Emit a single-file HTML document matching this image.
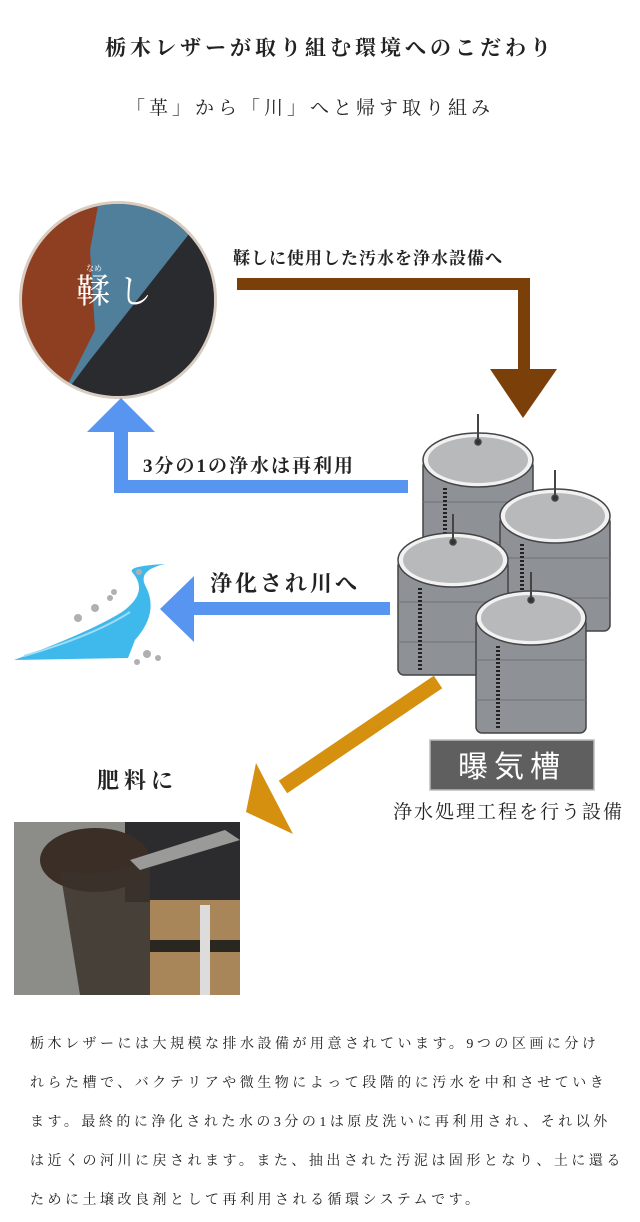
<!DOCTYPE html>
<html><head><meta charset="utf-8"><style>
body{margin:0;background:#fff;width:640px;height:1222px;overflow:hidden;font-family:"Liberation Serif","Noto Serif CJK SC",serif;color:#222}
.p{position:absolute;left:30px;font-size:14px;letter-spacing:3.5px;white-space:nowrap;line-height:20px}
</style></head><body>
<svg width="640" height="1222" style="position:absolute;left:0;top:0" font-family="Liberation Serif, Noto Serif CJK SC, serif">
<defs>
<clipPath id="c"><circle cx="118" cy="300" r="96"/></clipPath>
<g id="t" stroke="#444" stroke-width="1.5">
<rect x="0" y="28" width="110" height="115" rx="6" fill="#8e9196"/>
<line x1="0" y1="70" x2="110" y2="70" stroke="#6f7276" stroke-width="1"/>
<line x1="0" y1="110" x2="110" y2="110" stroke="#6f7276" stroke-width="1"/>
<ellipse cx="55" cy="28" rx="55" ry="27" fill="#f2f2f2"/>
<ellipse cx="55" cy="28" rx="50" ry="23" fill="#b8b9bb" stroke="none"/>
<line x1="55" y1="-18" x2="55" y2="10" stroke-width="2"/>
<circle cx="55" cy="10" r="3" fill="#333"/>
<line x1="22" y1="56" x2="22" y2="140" stroke="#222" stroke-width="4" stroke-dasharray="2 2"/>
</g>
</defs>
<text x="330" y="55" font-size="21" font-weight="bold" text-anchor="middle" letter-spacing="4" fill="#222">栃木レザーが取り組む環境へのこだわり</text>
<text x="310" y="114" font-size="19" text-anchor="middle" letter-spacing="4" fill="#222">「革」から「川」へと帰す取り組み</text>
<circle cx="118" cy="300" r="99" fill="#d9cdc2"/>
<g clip-path="url(#c)">
<rect x="18" y="200" width="200" height="200" fill="#8e3f22"/>
<polygon points="100,195 220,195 220,400 60,400 95,330 90,250" fill="#4f7f9a"/>
<polygon points="200,220 220,220 220,400 60,400 90,360" fill="#2a2b2e"/>
</g>
<text x="86" y="271" font-size="8" fill="#fff">なめ</text>
<text x="118" y="303" font-size="34" fill="#fff" text-anchor="middle" letter-spacing="8">鞣し</text>
<text x="233" y="264" font-size="17" font-weight="bold" letter-spacing="1" fill="#222">鞣しに使用した汚水を浄水設備へ</text>
<path d="M237 278 H530 V372 H518 V290 H237Z" fill="#7b3f0a"/>
<polygon points="490,369 557,369 523,418" fill="#7b3f0a"/>
<polygon points="87,432 155,432 121,398" fill="#5895f0"/>
<path d="M114 431 H128 V480 H408 V493 H114Z" fill="#5895f0"/>
<text x="143" y="472" font-size="19" font-weight="bold" letter-spacing="2" fill="#222">3分の1の浄水は再利用</text>
<polygon points="160,609 194,576 194,642" fill="#5895f0"/>
<rect x="193" y="602" width="197" height="13" fill="#5895f0"/>
<text x="210" y="591" font-size="22" font-weight="bold" letter-spacing="3" fill="#222">浄化され川へ</text>
<path d="M14 660 Q90 632 122 612 Q150 592 132 572 Q128 566 165 564 Q138 570 145 585 Q160 612 135 640 L128 658 Z" fill="#3fb9ec"/>
<path d="M24 656 Q95 635 130 612" stroke="#9fdcf6" stroke-width="2" fill="none"/>
<g fill="#b0b0b0"><circle cx="139" cy="572" r="3"/><circle cx="110" cy="598" r="3"/><circle cx="95" cy="608" r="4"/><circle cx="78" cy="618" r="4"/><circle cx="147" cy="654" r="4"/><circle cx="158" cy="658" r="3"/><circle cx="137" cy="662" r="3"/><circle cx="114" cy="592" r="3"/></g>
<use href="#t" x="423" y="432"/>
<use href="#t" x="500" y="488"/>
<use href="#t" x="398" y="532"/>
<use href="#t" x="476" y="590"/>
<line x1="438" y1="682" x2="283" y2="787" stroke="#d4900e" stroke-width="15"/>
<polygon points="246,812 256,763 293,834" fill="#d4900e"/>
<rect x="430" y="740" width="164" height="50" fill="#5f5f5f" stroke="#bbb" stroke-width="1.5"/>
<text x="512" y="777" font-size="30" fill="#fff" text-anchor="middle" letter-spacing="6" font-family="Liberation Sans, Noto Sans CJK SC, sans-serif">曝気槽</text>
<text x="393" y="818" font-size="19" letter-spacing="2" fill="#222">浄水処理工程を行う設備</text>
<text x="97" y="788" font-size="22" font-weight="bold" letter-spacing="5" fill="#222">肥料に</text>
<rect x="14" y="822" width="226" height="173" fill="#8c8c88"/>
<rect x="125" y="822" width="115" height="80" fill="#2c2c2e"/>
<rect x="150" y="900" width="90" height="95" fill="#a8865a"/>
<rect x="150" y="940" width="90" height="12" fill="#2a2620"/>
<rect x="200" y="905" width="10" height="90" fill="#dcdcdc"/>
<ellipse cx="95" cy="860" rx="55" ry="32" fill="#3a2e26"/>
<path d="M60 870 Q100 880 150 860 L150 995 L80 995 Z" fill="#3b322c" opacity="0.85"/>
<path d="M130 860 L225 830 L240 840 L140 870Z" fill="#9a9a98"/>
</svg>
<div class="p" style="top:1035px">栃木レザーには大規模な排水設備が用意されています。9つの区画に分け</div>
<div class="p" style="top:1074px">れらた槽で、バクテリアや微生物によって段階的に汚水を中和させていき</div>
<div class="p" style="top:1113px">ます。最終的に浄化された水の3分の1は原皮洗いに再利用され、それ以外</div>
<div class="p" style="top:1152px">は近くの河川に戻されます。また、抽出された汚泥は固形となり、土に還る</div>
<div class="p" style="top:1191px">ために土壌改良剤として再利用される循環システムです。</div>
</body></html>
